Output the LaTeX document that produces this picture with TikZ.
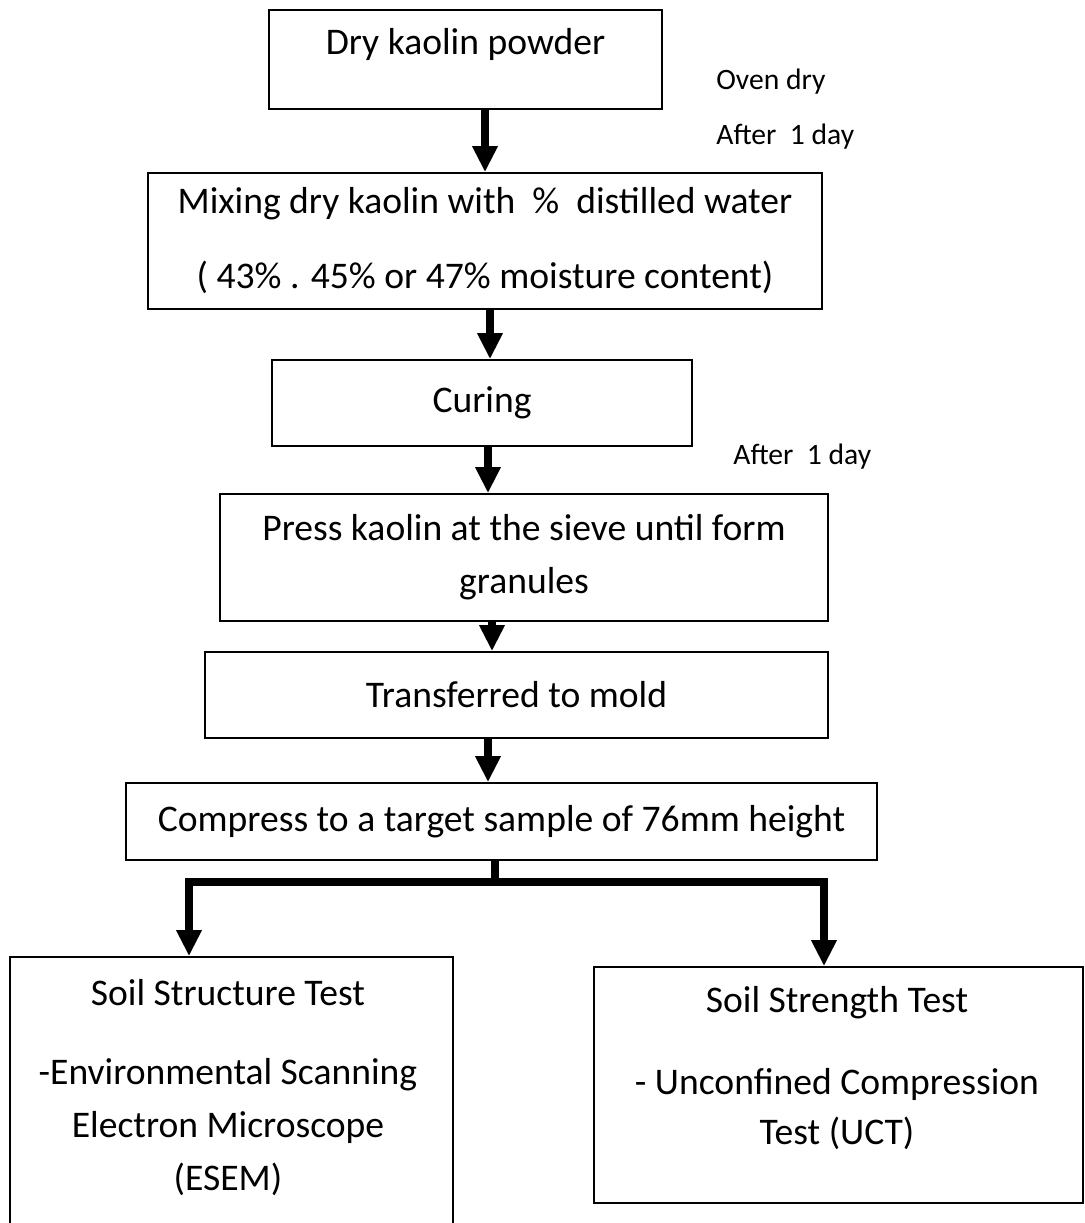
\documentclass[tikz,border=0pt]{standalone}
\usepackage{fontspec}
\setmainfont{Carlito}
\usetikzlibrary{arrows.meta}

\begin{document}
\begin{tikzpicture}[x=0.5pt,y=-0.5pt,
  box/.style={draw,line width=0.9pt,inner sep=0pt,align=center,font=\fontsize{18.8}{26.5}\selectfont},
  txt/.style={inner sep=0pt,align=center,font=\fontsize{18.8}{26.5}\selectfont},
  lbl/.style={anchor=west,inner sep=0pt,font=\fontsize{14.8}{17}\selectfont},
  flow/.style={line width=4pt,-{Triangle[width=12pt,length=13pt]}}]
  \useasboundingbox (0,0) rectangle (1085,1223);

  % steps
  \node [box,minimum width=196.5pt,minimum height=49.5pt] (dry) at (465.5,59.5) {};
  \node [txt] (dryT) at ([yshift=-17.5pt]dry.north) {Dry kaolin powder};
  \node [box,minimum width=337pt,minimum height=68pt] (mix) at (485,241)
    {Mixing dry kaolin with~~\%~~distilled water\\[11pt]( 43\% . 45\% or 47\% moisture content)};
  \node [box,minimum width=210pt,minimum height=43pt] (cure) at (482,403) {Curing};
  \node [box,minimum width=304pt,minimum height=63.5pt] (press) at (524,557.5)
    {Press kaolin at the sieve until form\\granules};
  \node [box,minimum width=311.5pt,minimum height=43pt] (mold) at (516.5,695) {Transferred to mold};
  \node [box,minimum width=375.5pt,minimum height=38.5pt] (comp) at (501.5,821.5)
    {Compress to a target sample of 76mm height};

  % tests
  \node [box,minimum width=221.5pt,minimum height=146.5pt] (sst) at (231.5,1103.5) {};
  \node [txt,anchor=north] (sstT) at ([xshift=-1.75pt,yshift=-11.25pt]sst.north)
    {Soil Structure Test\\[13pt]-Environmental Scanning\\Electron Microscope\\(ESEM)};
  \node [box,minimum width=244.5pt,minimum height=118pt] (sgt) at (838.5,1085) {};
  \node [txt,anchor=north] (sgtT) at ([xshift=-0.75pt,yshift=-9.75pt]sgt.north)
    {Soil Strength Test\\[14.5pt]- Unconfined Compression\\[-1.5pt]Test (UCT)};

  % side notes
  \node [lbl] (oven) at (716,82) {Oven dry};
  \node [lbl] (day1) at (716,137) {After~~1 day};
  \node [lbl] (day2) at (733,457) {After~~1 day};

  % arrows
  \draw [flow] (dry.south -| mix.north) -- (mix.north);
  \draw [flow] ([xshift=2.5pt]mix.south) -- ([xshift=2.5pt]mix.south |- cure.north);
  \draw [flow] ([xshift=3pt]cure.south) -- ([xshift=3pt]cure.south |- press.north);
  \draw [flow] ([xshift=-16pt]press.south) -- ([xshift=-16pt]press.south |- mold.north);
  \draw [flow] ([xshift=-14.25pt]mold.south) -- ([xshift=-14.25pt]mold.south |- comp.north);
  \coordinate (split) at (495,882);
  \draw [line width=4pt] ([xshift=-3.25pt]comp.south) -- (split);
  \draw [flow] (split) -| ([xshift=-21.25pt]sst.north);
  \draw [flow] (split) -| ([xshift=-7.25pt]sgt.north);
\end{tikzpicture}
\end{document}
